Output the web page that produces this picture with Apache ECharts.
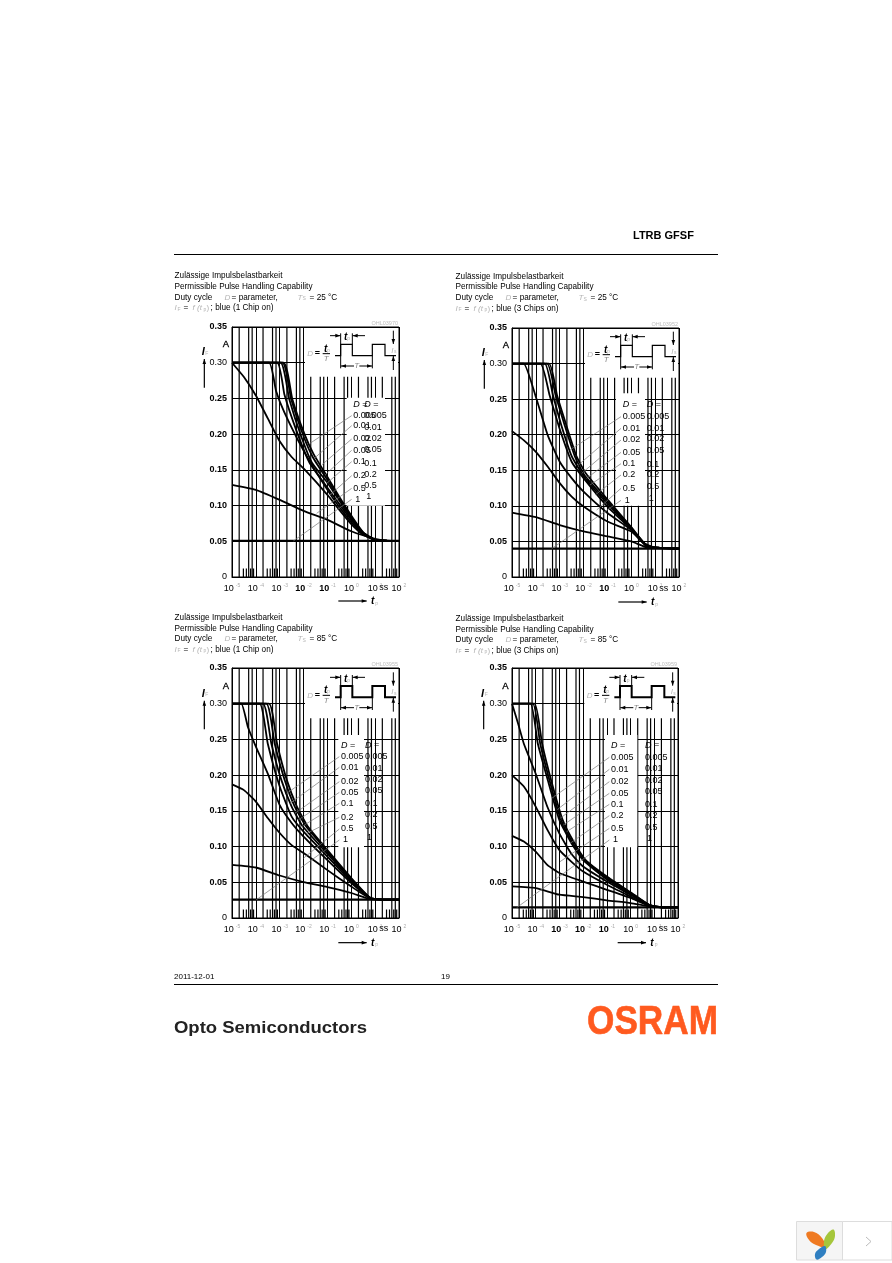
<!DOCTYPE html>
<html><head><meta charset="utf-8">
<style>html,body{margin:0;padding:0;background:#fff}#c{width:892px;height:1263px}</style>
<script src="https://cdn.jsdelivr.net/npm/echarts@6/dist/echarts.min.js"></script>
</head><body><div id="c"></div>
<script>
// pairs: [log10(tp / s), IF / A]
const dutyNames = ['0.005','0.01','0.02','0.05','0.1','0.2','0.5','1'];
const yTicks = [0,0.05,0.1,0.15,0.2,0.25,0.3,0.35];

const p1_005=[[-5,.30],[-2.84,.30],[-2.47,.249],[-1.96,.2],[-1.58,.172],[-1,.14],[-.5,.112],[0,.086],[.5,.0625],[1,.052],[1.5,.0507],[2,.0505]];
const p1_01 =[[-5,.30],[-2.89,.30],[-2.52,.249],[-2,.197],[-1.6,.167],[-1,.136],[-.5,.11],[0,.084],[.5,.062],[1,.052],[1.5,.0507],[2,.0505]];
const p1_02 =[[-5,.30],[-2.97,.30],[-2.6,.249],[-2.1,.197],[-1.65,.16],[-1,.132],[-.5,.107],[0,.082],[.5,.0615],[1,.052],[1.5,.0507],[2,.0505]];
const p1_05 =[[-5,.30],[-3.11,.30],[-2.8,.255],[-2.3,.205],[-1.75,.16],[-1,.125],[-.5,.102],[0,.08],[.5,.061],[1,.052],[1.5,.0507],[2,.0505]];
const p1_1  =[[-5,.30],[-3.45,.30],[-3.15,.26],[-2.8,.23],[-2,.177],[-1,.122],[-.5,.098],[0,.077],[.5,.06],[1,.052],[1.5,.0507],[2,.0505]];
const p1_2  =[[-5,.30],[-4.5,.28],[-4,.254],[-3.5,.222],[-3,.19],[-2.5,.168],[-2,.152],[-1,.115],[-.5,.094],[0,.074],[.5,.059],[1,.052],[1.5,.0507],[2,.0505]];
const p1_5  =[[-5,.129],[-4,.122],[-3,.108],[-2,.0925],[-1,.08],[0,.064],[1,.0535],[1.5,.051],[2,.0505]];
const p1_10 =[[-5,.0505],[2,.0505]];

const p2_005=[[-5,.30],[-3.45,.30],[-3.11,.255],[-2.72,.213],[-2.3,.17],[-1.89,.145],[-1,.109],[0,.07],[.65,.044],[1.2,.041],[2,.04]];
const p2_01 =[[-5,.30],[-3.53,.30],[-3.17,.255],[-2.79,.213],[-2.37,.17],[-1.96,.143],[-1,.106],[0,.069],[.65,.044],[1.2,.041],[2,.04]];
const p2_02 =[[-5,.30],[-3.63,.30],[-3.28,.255],[-2.93,.213],[-2.5,.17],[-2,.142],[-1,.103],[0,.068],[.65,.044],[1.2,.041],[2,.04]];
const p2_05 =[[-5,.30],[-3.81,.30],[-3.42,.255],[-3,.208],[-2.5,.162],[-2,.139],[-1,.099],[0,.067],[.65,.043],[1.2,.041],[2,.04]];
const p2_1  =[[-5,.30],[-4.51,.30],[-4,.253],[-3.5,.199],[-3,.162],[-2.5,.139],[-2,.12],[-1,.09],[0,.066],[.65,.043],[1.2,.041],[2,.04]];
const p2_2  =[[-5,.205],[-4.5,.192],[-4,.176],[-3.5,.155],[-3,.132],[-2.5,.113],[-2,.099],[-1,.078],[0,.064],[.5,.048],[1,.041],[2,.04]];
const p2_5  =[[-5,.0905],[-4,.084],[-3,.073],[-2,.064],[-1,.057],[0,.05],[.65,.0415],[1.3,.0405],[2,.04]];
const p2_10 =[[-5,.04],[2,.04]];

const p3_005=[[-5,.30],[-3.45,.30],[-3.11,.244],[-2.7,.193],[-2.28,.156],[-1.82,.128],[-1,.095],[0,.056],[.8,.028],[1.3,.0258],[2,.0256]];
const p3_01 =[[-5,.30],[-3.56,.30],[-3.21,.244],[-2.79,.193],[-2.37,.156],[-1.89,.128],[-1,.093],[0,.054],[.8,.028],[1.3,.0258],[2,.0256]];
const p3_02 =[[-5,.30],[-3.7,.30],[-3.35,.244],[-2.93,.193],[-2.5,.156],[-2.03,.128],[-1,.09],[0,.053],[.8,.028],[1.3,.0258],[2,.0256]];
const p3_05 =[[-5,.30],[-3.84,.30],[-3.5,.244],[-3,.184],[-2.5,.142],[-2,.121],[-1,.086],[0,.051],[.8,.028],[1.3,.0258],[2,.0256]];
const p3_1  =[[-5,.30],[-4.61,.30],[-4.33,.267],[-4,.24],[-3.5,.202],[-3,.158],[-2.5,.133],[-2,.114],[-1,.081],[0,.049],[.8,.028],[1.3,.0258],[2,.0256]];
const p3_2  =[[-5,.187],[-4.5,.179],[-4,.163],[-3.5,.14],[-3,.119],[-2.5,.102],[-2,.091],[-1,.067],[0,.044],[.8,.027],[1.3,.0258],[2,.0256]];
const p3_5  =[[-5,.0744],[-4,.0707],[-3,.0595],[-2,.0502],[-1,.0433],[0,.035],[.8,.0265],[1.3,.0258],[2,.0256]];
const p3_10 =[[-5,.0256],[2,.0256]];

const p4_005=[[-5,.30],[-4.05,.30],[-3.73,.244],[-3.35,.193],[-2.86,.137],[-2.37,.105],[-1.89,.081],[-1,.058],[0,.036],[.8,.018],[1.3,.015],[2,.0149]];
const p4_01 =[[-5,.30],[-4.12,.30],[-3.81,.244],[-3.42,.193],[-2.93,.137],[-2.44,.105],[-1.96,.081],[-1,.056],[0,.035],[.8,.018],[1.3,.015],[2,.0149]];
const p4_02 =[[-5,.30],[-4.22,.30],[-3.91,.244],[-3.49,.193],[-3,.137],[-2.5,.105],[-2,.081],[-1,.054],[0,.034],[.8,.018],[1.3,.015],[2,.0149]];
const p4_05 =[[-5,.30],[-4.75,.273],[-4.5,.244],[-4,.202],[-3.5,.155],[-3,.118],[-2.5,.09],[-2,.072],[-1,.051],[0,.0325],[.8,.0177],[1.3,.015],[2,.0149]];
const p4_1  =[[-5,.2],[-4.5,.184],[-4,.156],[-3.5,.123],[-3,.095],[-2.5,.079],[-2,.065],[-1,.0465],[0,.03],[.8,.017],[1.3,.015],[2,.0149]];
const p4_2  =[[-5,.115],[-4.5,.107],[-4,.093],[-3.5,.074],[-3,.063],[-2,.051],[-1,.0395],[0,.028],[.8,.017],[1.3,.015],[2,.0149]];
const p4_5  =[[-5,.0442],[-4,.0419],[-3,.0326],[-2,.0293],[-1,.0247],[0,.0209],[.8,.0163],[1.3,.015],[2,.0149]];
const p4_10 =[[-5,.0149],[2,.0149]];

const panelCurves=[
 [p1_005,p1_01,p1_02,p1_05,p1_1,p1_2,p1_5,p1_10],
 [p2_005,p2_01,p2_02,p2_05,p2_1,p2_2,p2_5,p2_10],
 [p3_005,p3_01,p3_02,p3_05,p3_1,p3_2,p3_5,p3_10],
 [p4_005,p4_01,p4_02,p4_05,p4_1,p4_2,p4_5,p4_10]];
const decades=[-5,-4,-3,-2,-1,0,1];
const fullMinor=[2,5,7];
const tickMinor=[3,4,6,8];
const chipText=['blue (1 Chip on)','blue (3 Chips on)','blue (1 Chip on)','blue (3 Chips on)'];
const tempText=['= 25 °C','= 25 °C','= 85 °C','= 85 °C'];
const codeText=['OHL03970','OHL03952','OHL03955','OHL03959'];
const boldX=[[-2,-1],[-1],[],[-3,-2,-1]];

// ---- layout
const FONT='"Liberation Sans"';
const plots=[[232,327,167,250],[512,328,167,249],[232,668,167,250],[512,668,166,250]];
const org=[[170,265],[450,265],[170,610],[450,610]];
const shift=[[0,0],[0,3],[0,-10],[-2,-10]];
const titleY=[[275.7,286.3,297.3,307.7],[276.5,287,298,308.5],[618,628.5,639,649.5],[619,630,640,650.5]];
const titleX=[174.6,455.6,174.6,455.6];
const boxes=[[530,398,645,722],[498,385,585,722],[505,375,582,712],[465,375,562,712]];
const legendCol1=[550,518,513,483];
const legendCol2=[583,590,585,585];
const legendY1=[[418,452,482,522,556,590,632,670,703],[418,455,490,525,562,596,630,670,706],[407,440,472,515,547,580,622,657,690],[407,442,478,515,550,583,617,655,690]];
const legendY2=[[418,452,488,520,553,596,628,662,695],[418,455,490,522,557,598,630,665,700],[405,440,475,508,541,582,615,650,683],[405,442,477,511,545,585,618,652,685]];
const leaderEnd=[
 [[420,535],[435,578],[455,600],[465,630],[470,655],[480,690],[440,745],[370,828]],
 [[360,555],[385,600],[395,625],[410,640],[420,660],[435,690],[440,735],[305,851]],
 [[350,550],[360,580],[375,610],[385,630],[395,650],[410,670],[400,745],[258,870]],
 [[305,565],[320,600],[330,625],[340,645],[350,665],[360,700],[330,755],[200,893]]];

const els=[];
function txt(x,y,s,o={}){els.push({type:'text',x,y,z:o.z||8,silent:true,scaleX:o.scaleX||1,style:{text:s,fill:o.color||'#000',
  font:`${o.italic?'italic ':''}${o.bold?'bold ':''}${o.size||9}px ${FONT}`,align:o.align||'left',verticalAlign:'middle',
  lineWidth:o.lw||0,stroke:o.lw?(o.color||'#000'):null}});}
function line(x1,y1,x2,y2,w=1,c='#000',z=8){els.push({type:'line',z,silent:true,shape:{x1,y1,x2,y2},style:{stroke:c,lineWidth:w}});}
function rect(x,y,w,h,fill,z=3,stroke){els.push({type:'rect',z,silent:true,shape:{x,y,width:w,height:h},style:{fill,stroke:stroke||null,lineWidth:stroke?1:0}});}
function tri(a,b,c,z=8){els.push({type:'polygon',z,silent:true,shape:{points:[a,b,c]},style:{fill:'#000'}});}
function arrow(x1,y1,x2,y2,w=1){line(x1,y1,x2,y2,w);const d=Math.hypot(x2-x1,y2-y1),ux=(x2-x1)/d,uy=(y2-y1)/d,l=5,h=1.8;
  tri([x2,y2],[x2-ux*l-uy*h,y2-uy*l+ux*h],[x2-ux*l+uy*h,y2-uy*l-ux*h]);}
const faded='#b5b5b5';
const TS=8.2;

for(let i=0;i<4;i++){
  const [ox,oy]=org[i];const P=(zx,zy)=>[ox+zx/3,oy+zy/3];
  const S=(zx,zy)=>P(zx+shift[i][0],zy+shift[i][1]);
  // titles
  const tx=titleX[i],ty=titleY[i];
  txt(tx,ty[0],'Zulässige Impulsbelastbarkeit',{size:TS});
  txt(tx,ty[1],'Permissible Pulse Handling Capability',{size:TS});
  txt(tx,ty[2],'Duty cycle',{size:TS});
  txt(tx+50,ty[2],'D',{size:8,italic:true,color:faded});
  txt(tx+57,ty[2],'= parameter,',{size:TS});
  txt(tx+123,ty[2],'T',{size:8,italic:true,color:faded});
  txt(tx+128,ty[2]+1.5,'S',{size:5,color:faded});
  txt(tx+135,ty[2],tempText[i],{size:TS});
  txt(tx,ty[3],'I',{size:8,italic:true,color:faded});
  txt(tx+3,ty[3]+1.5,'F',{size:5,color:faded});
  txt(tx+9,ty[3],'=',{size:TS});
  txt(tx+18,ty[3],'f (t',{size:8,italic:true,color:faded});
  txt(tx+29,ty[3]+1.5,'p',{size:5,color:faded});
  txt(tx+32,ty[3],')',{size:8,color:faded});
  txt(tx+36,ty[3],'; '+chipText[i],{size:TS});
  // white inserts
  const pl=plots[i];
  const a=S(405,187);rect(a[0],pl[1]+1,pl[0]+pl[2]-a[0]-1,S(405,335)[1]-pl[1]-1,'#fff');
  const b=P(boxes[i][0],boxes[i][1]),c=P(boxes[i][2],boxes[i][3]);rect(b[0],b[1],c[0]-b[0],c[1]-b[1],'#fff');
  // code
  txt(pl[0]+pl[2]-1,pl[1]-4,codeText[i],{size:5.5,color:'#bdbdbd',align:'right'});
  // legend columns
  [[legendCol1[i],legendY1[i]],[legendCol2[i],legendY2[i]]].forEach(([lx,ys])=>{
    const p0=P(lx,ys[0]);txt(p0[0],p0[1],'D',{italic:true,size:9});txt(p0[0]+9,p0[1],'=',{size:9});
    dutyNames.forEach((n,k)=>{const p=P(lx,ys[k+1]);txt(p[0]+(n==='1'?2:0),p[1],n,{size:9});});
  });
  // leaders
  leaderEnd[i].forEach((e,k)=>{const s=P(legendCol1[i]-5,legendY1[i][k+1]),t=P(e[0],e[1]);line(s[0],s[1],t[0],t[1],.7,'#777',6);});
  // pulse sketch
  const W=i>=2?2:1.2;
  const wave=[[495,272],[512,272],[512,238],[547,238],[547,272],[607,272],[607,238],[645,238],[645,272],[678,272]].map(q=>S(q[0],q[1]));
  els.push({type:'polyline',z:8,silent:true,shape:{points:wave},style:{stroke:'#000',lineWidth:W,fill:null}});
  let q=S(512,238),r=S(512,310);line(q[0],q[1],r[0],r[1]);
  q=S(607,272);r=S(607,310);line(q[0],q[1],r[0],r[1]);
  q=S(547,205);r=S(547,238);line(q[0],q[1],r[0],r[1]);
  q=S(512,205);r=S(512,238);line(q[0],q[1],r[0],r[1]);
  q=S(480,212);r=S(511,212);arrow(q[0],q[1],r[0],r[1]);
  q=S(585,212);r=S(548,212);arrow(q[0],q[1],r[0],r[1]);
  q=S(522,218);txt(q[0],q[1],'t',{italic:true,bold:true,size:10});
  q=S(532,222);txt(q[0],q[1],'p',{size:5,color:faded});
  q=S(552,303);r=S(513,303);arrow(q[0],q[1],r[0],r[1]);
  q=S(568,303);r=S(606,303);arrow(q[0],q[1],r[0],r[1]);
  q=S(560,303);txt(q[0],q[1],'T',{italic:true,size:8,color:'#888',align:'center'});
  q=S(670,197);r=S(670,237);arrow(q[0],q[1],r[0],r[1]);
  q=S(670,315);r=S(670,273);arrow(q[0],q[1],r[0],r[1]);
  q=S(664,256);txt(q[0],q[1],'I',{italic:true,size:8,color:faded});
  q=S(672,260);txt(q[0],q[1],'s',{size:5,color:faded});
  q=S(412,267);txt(q[0],q[1],'D',{italic:true,size:8,color:faded});
  q=S(434,267);txt(q[0],q[1],'=',{size:9,bold:true});
  q=S(462,252);txt(q[0],q[1],'t',{italic:true,bold:true,size:10});
  q=S(471,256);txt(q[0],q[1],'p',{size:5,color:faded});
  q=S(458,266);r=S(480,266);line(q[0],q[1],r[0],r[1],1);
  q=S(461,281);txt(q[0],q[1],'T',{italic:true,size:8,color:'#888'});
  // axis names
  q=S(168,238);txt(q[0],q[1],'A',{size:9.5,lw:.3,align:'center'});
  q=S(95,262);txt(q[0],q[1],'I',{italic:true,bold:true,size:11});
  q=S(106,265);txt(q[0],q[1],'F',{size:5,color:faded});
  q=S(103,368);r=S(103,282);arrow(q[0],q[1],r[0],r[1],1.2);
  q=S(505,1008);r=S(590,1008);arrow(q[0],q[1],r[0],r[1],1.2);
  q=S(603,1010);txt(q[0],q[1],'t',{italic:true,bold:true,size:10});
  q=S(616,1015);txt(q[0],q[1],'p',{size:5,color:faded});
  q=S(628,967);txt(q[0],q[1],'ss',{size:9});
}
// page furniture
line(174,254.5,718,254.5,1);
line(174,984.5,718,984.5,1);
txt(633,236,'LTRB GFSF',{bold:true,size:11});
txt(174,977,'2011-12-01',{size:8});
txt(441,977,'19',{size:8});
txt(174,1029,'Opto Semiconductors',{bold:true,size:16,color:'#222',scaleX:1.155});
txt(587,1023,'OSRAM',{bold:true,size:40,color:'#ff5a1f',scaleX:.88,lw:.6});
// corner widget
rect(796.5,1221.5,46,38.5,'#f5f5f5',3,'#dddddd');
rect(842.5,1221.5,49.5,38.5,'#ffffff',3,'#dddddd');
[[[[806.5,1233],[814,1232],[822,1238],[825.5,1247],[816,1245],[809,1240]],'#ef7a22'],
 [[[833.5,1229.5],[835,1236],[832,1243],[825.5,1249],[824,1241],[828,1233]],'#a5c63b'],
 [[[825,1246],[826,1252],[822,1257],[816.5,1259.5],[815,1254],[819,1249]],'#2f7fc1']].forEach(([pts,f])=>
  els.push({type:'polygon',z:4,silent:true,shape:{points:pts,smooth:0.4},style:{fill:f}}));
els.push({type:'polyline',z:4,silent:true,shape:{points:[[866,1237],[871,1241.5],[866,1246]]},style:{stroke:'#bbb',lineWidth:1,fill:null}});

// ---- axes + series
const grids=[],xAxes=[],yAxes=[],series=[];
plots.forEach((p,i)=>{
  grids.push({left:p[0],top:p[1],width:p[2],height:p[3],show:true,borderColor:'#000',borderWidth:1,backgroundColor:'transparent',containLabel:false});
  xAxes.push({type:'log',logBase:10,gridIndex:i,min:1e-5,max:100,interval:1,
    axisLine:{lineStyle:{color:'#000',width:1}},axisTick:{show:false},minorTick:{show:false},
    splitLine:{show:true,lineStyle:{color:'#000',width:1}},
    axisLabel:{margin:6,hideOverlap:false,showMinLabel:true,showMaxLabel:true,formatter:v=>{const e=Math.round(Math.log10(v));
       return `{${boldX[i].includes(e)?'b':'n'}|10}{s|${e}}`;},
      rich:{n:{fontFamily:FONT,fontSize:9,color:'#000',lineHeight:12},b:{fontFamily:FONT,fontSize:9,fontWeight:'bold',color:'#000',lineHeight:12},
            s:{fontFamily:FONT,fontSize:5,color:'#aaa',verticalAlign:'top',lineHeight:12,padding:[0,0,0,2]}}}});
  yAxes.push({type:'value',gridIndex:i,min:0,max:0.35,interval:0.05,
    axisLine:{show:true,lineStyle:{color:'#000',width:1}},axisTick:{show:false},
    splitLine:{show:true,lineStyle:{color:'#000',width:1}},
    axisLabel:{margin:5,fontFamily:FONT,fontSize:9,color:'#000',formatter:v=>{const s=yTicks.find(t=>Math.abs(t-v)<1e-6);
       return (s===0)?'0':(Math.abs(s-0.3)<1e-6?'{n|0.30}':'{b|'+s.toFixed(2)+'}');},
      rich:{n:{fontFamily:FONT,fontSize:9},b:{fontFamily:FONT,fontSize:9,fontWeight:'bold'}}}});
  const gridData=[];
  decades.forEach(d=>{
    fullMinor.forEach(m=>{const x=m*Math.pow(10,d);gridData.push([x,0],[x,0.35],[x,'-']);});
    tickMinor.forEach(m=>{const x=m*Math.pow(10,d);gridData.push([x,0],[x,0.012],[x,'-']);});
  });
  series.push({type:'line',name:'grid'+i,xAxisIndex:i,yAxisIndex:i,data:gridData,showSymbol:false,symbol:'none',silent:true,z:1,connectNulls:false,animation:false,
    lineStyle:{color:'#000',width:1.2}});
  panelCurves[i].forEach((arr,k)=>{
    series.push({type:'line',name:'D='+dutyNames[k],xAxisIndex:i,yAxisIndex:i,symbol:'none',showSymbol:false,silent:true,z:5,animation:false,
      smooth:arr.length>2?0.15:false,data:arr.map(q=>[Math.pow(10,q[0]),q[1]]),
      lineStyle:{color:'#000',width:k===7?2.2:1.8,join:'round'}});
  });
});
const chart=echarts.init(document.getElementById('c'),null,{renderer:'canvas'});
chart.setOption({animation:false,backgroundColor:'#fff',grid:grids,xAxis:xAxes,yAxis:yAxes,series,graphic:{elements:els}});
</script></body></html>
